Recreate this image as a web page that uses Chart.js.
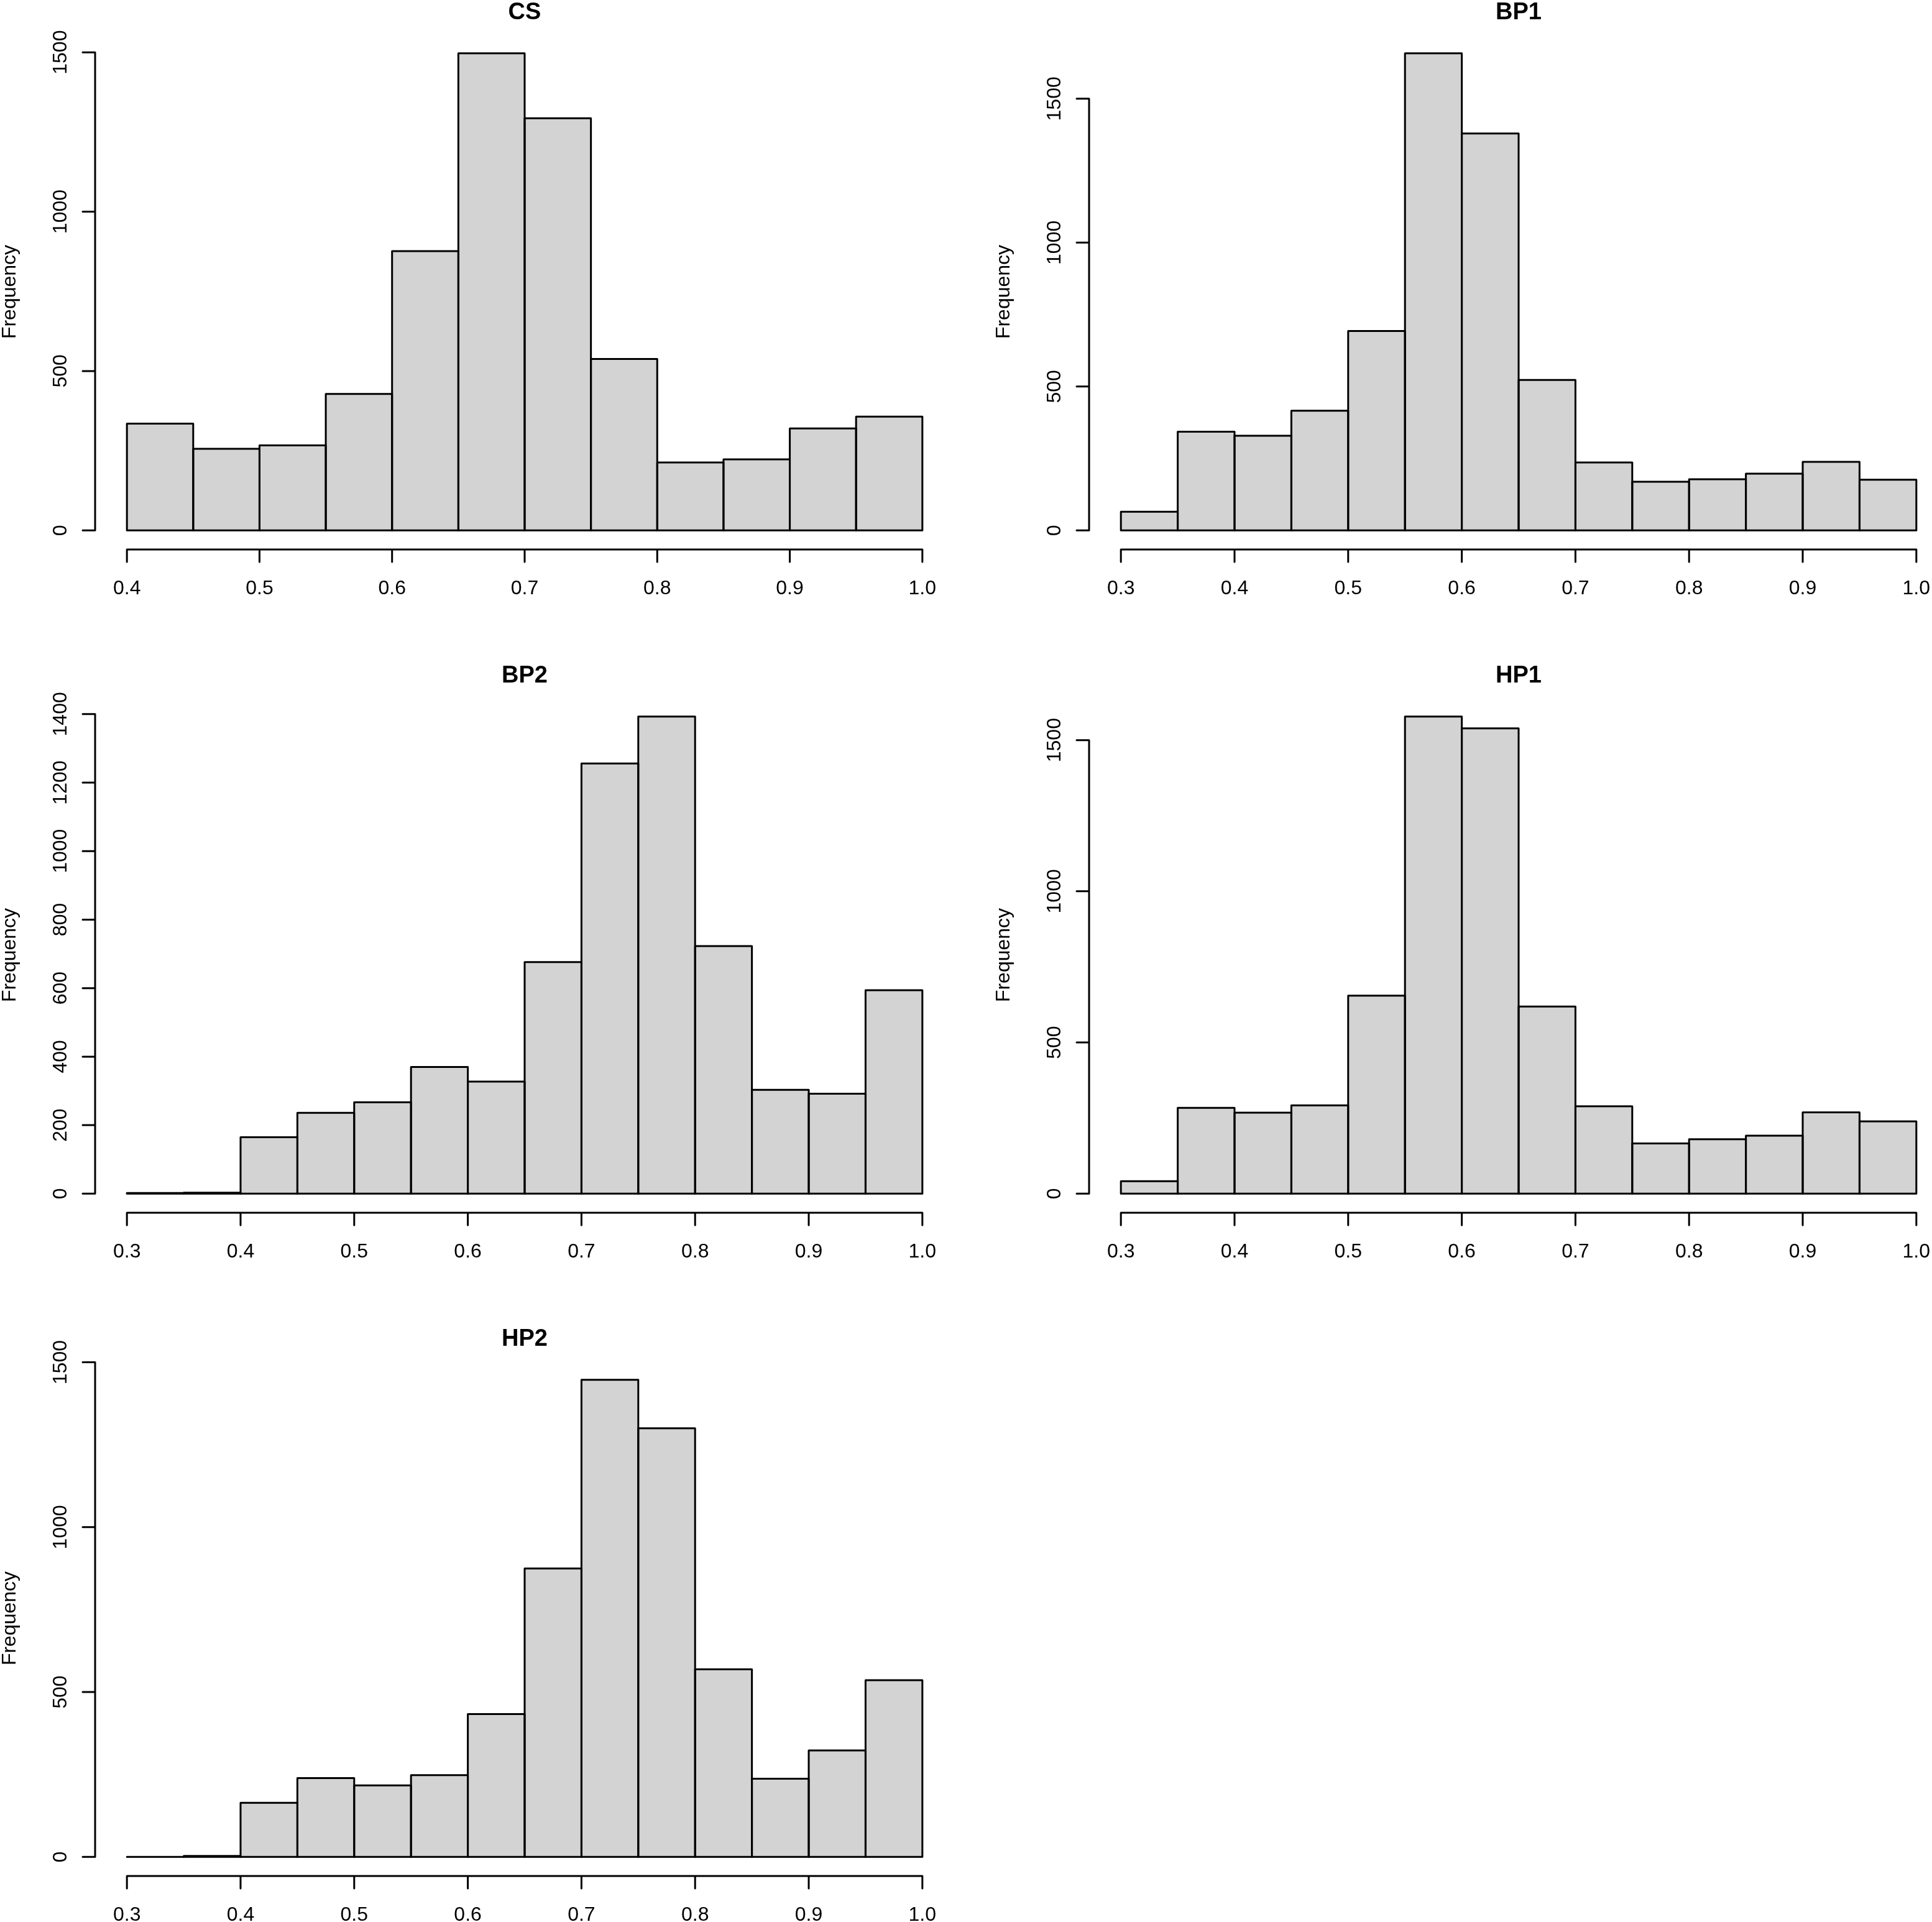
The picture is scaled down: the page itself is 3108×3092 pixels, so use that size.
<!DOCTYPE html>
<html>
<head>
<meta charset="utf-8">
<title>Histograms</title>
<script src="https://cdn.jsdelivr.net/npm/chart.js@4.4.1/dist/chart.umd.min.js"></script>
<style>
  body { margin: 0; background: #ffffff; }
  #figure { position: relative; width: 3108px; height: 3092px; overflow: hidden; background: #ffffff; }
  #figure canvas { position: absolute; }
</style>
</head>
<body>
<div id="figure"></div>
<script>
// Bin starts, every bin is 0.05 wide
const binWidth = 0.05;
const binsFrom40 = [0.40, 0.45, 0.50, 0.55, 0.60, 0.65, 0.70, 0.75, 0.80, 0.85, 0.90, 0.95];
const binsFrom30 = [0.30, 0.35, 0.40, 0.45, 0.50, 0.55, 0.60, 0.65, 0.70, 0.75, 0.80, 0.85, 0.90, 0.95];

// Frequencies
const csCounts  = [335, 256, 267, 428, 876, 1497, 1293, 538, 213, 223, 320, 357];
const bp1Counts = [65, 343, 329, 416, 693, 1658, 1379, 523, 236, 169, 178, 197, 238, 176];
const bp2Counts = [2, 3, 165, 236, 267, 370, 327, 676, 1256, 1393, 723, 303, 292, 594];
const hp1Counts = [41, 284, 268, 292, 655, 1578, 1539, 619, 289, 166, 180, 192, 269, 239];
const hp2Counts = [0, 3, 164, 239, 217, 248, 433, 875, 1447, 1300, 569, 237, 323, 536];

// Tick labels
const xTicksFrom40 = [0.4, 0.5, 0.6, 0.7, 0.8, 0.9, 1.0];
const xTicksFrom30 = [0.3, 0.4, 0.5, 0.6, 0.7, 0.8, 0.9, 1.0];
const yTicksBy500 = [0, 500, 1000, 1500];
const yTicksBy200 = [0, 200, 400, 600, 800, 1000, 1200, 1400];

const panelTitles = ["CS", "BP1", "BP2", "HP1", "HP2"];
const yAxisLabel = "Frequency";

// Panel grid of the figure (3 rows x 2 columns, last cell empty)
const panelWidth = 1554;
const panelHeight = 1067;
const columnStep = 1599;
const fontFamily = "'Liberation Sans', Arial, sans-serif";

/**
 * Draws the R style parts of a histogram: bar outlines, detached axes,
 * rotated y labels, the title and the y axis label.
 */
const rHistAxes = {
    id: "rHistAxes",
    afterDraw(chart, args, opts) {
        const ctx = chart.ctx;
        const area = chart.chartArea;
        const xScale = chart.scales.x;
        const yScale = chart.scales.y;

        ctx.save();
        ctx.strokeStyle = "#000000";
        ctx.fillStyle = "#000000";
        ctx.lineWidth = 3;
        ctx.lineJoin = "round";
        ctx.lineCap = "round";

        // Outline every bar like R's rect(), also the empty bins
        chart.getDatasetMeta(0).data.forEach(function (bar) {
            const p = bar.getProps(["x", "y", "base", "width"], true);
            const left = p.x - p.width / 2;
            const right = p.x + p.width / 2;
            ctx.beginPath();
            ctx.moveTo(left, p.base);
            ctx.lineTo(left, p.y);
            ctx.lineTo(right, p.y);
            ctx.lineTo(right, p.base);
            ctx.closePath();
            ctx.stroke();
        });

        // X axis, from first to last tick, at the bottom of the plot region
        const xFirst = xScale.getPixelForValue(opts.xTicks[0]);
        const xLast = xScale.getPixelForValue(opts.xTicks[opts.xTicks.length - 1]);
        ctx.beginPath();
        ctx.moveTo(xFirst, area.bottom);
        ctx.lineTo(xLast, area.bottom);
        opts.xTicks.forEach(function (v) {
            const px = xScale.getPixelForValue(v);
            ctx.moveTo(px, area.bottom);
            ctx.lineTo(px, area.bottom + 20);
        });
        ctx.stroke();

        ctx.font = "32px " + fontFamily;
        ctx.textAlign = "center";
        ctx.textBaseline = "alphabetic";
        opts.xTicks.forEach(function (v) {
            ctx.fillText(v.toFixed(1), xScale.getPixelForValue(v), area.bottom + 72);
        });

        // Y axis, from 0 to the highest tick, at the left of the plot region
        const yFirst = yScale.getPixelForValue(opts.yTicks[0]);
        const yLast = yScale.getPixelForValue(opts.yTicks[opts.yTicks.length - 1]);
        ctx.beginPath();
        ctx.moveTo(area.left, yFirst);
        ctx.lineTo(area.left, yLast);
        opts.yTicks.forEach(function (v) {
            const py = yScale.getPixelForValue(v);
            ctx.moveTo(area.left, py);
            ctx.lineTo(area.left - 20, py);
        });
        ctx.stroke();

        // Y tick labels run along the axis
        opts.yTicks.forEach(function (v) {
            ctx.save();
            ctx.translate(area.left - 46, yScale.getPixelForValue(v));
            ctx.rotate(-Math.PI / 2);
            ctx.fillText(String(v), 0, 0);
            ctx.restore();
        });

        // Y axis label
        ctx.save();
        ctx.translate(area.left - 128, (area.top + area.bottom) / 2);
        ctx.rotate(-Math.PI / 2);
        ctx.fillText(yAxisLabel, 0, 0);
        ctx.restore();

        // Title
        ctx.font = "bold 38px " + fontFamily;
        ctx.fillText(opts.title, (area.left + area.right) / 2, area.top - 24);

        ctx.restore();
    }
};

/**
 * Creates one histogram panel on its own canvas.
 * @param title The title drawn above the panel.
 * @param bins The start of every bin.
 * @param counts The frequency of every bin.
 * @param xTicks The x axis tick values.
 * @param yTicks The y axis tick values.
 * @param row The row of the figure grid.
 * @param col The column of the figure grid.
 */
function create_histogram(title, bins, counts, xTicks, yTicks, row, col) {
    const canvas = document.createElement("canvas");
    canvas.width = panelWidth;
    canvas.height = panelHeight;
    canvas.style.left = (col * columnStep) + "px";
    canvas.style.top = (row * panelHeight) + "px";
    document.getElementById("figure").appendChild(canvas);

    // R extends each axis range by 4% on both sides
    const xLow = bins[0];
    const xHigh = bins[bins.length - 1] + binWidth;
    const xPad = 0.04 * (xHigh - xLow);
    const yHigh = Math.max.apply(null, counts);
    const yPad = 0.04 * yHigh;

    new Chart(canvas, {
        type: "bar",
        data: {
            datasets: [{
                data: bins.map(function (b, i) {
                    return { x: b + binWidth / 2, y: counts[i] };
                }),
                backgroundColor: "#d3d3d3",
                borderWidth: 0,
                barPercentage: 1,
                categoryPercentage: 1
            }]
        },
        options: {
            responsive: false,
            animation: false,
            devicePixelRatio: 1,
            events: [],
            layout: { padding: { left: 153, right: 19, top: 55, bottom: 183 } },
            plugins: {
                legend: { display: false },
                title: { display: false },
                tooltip: { enabled: false },
                rHistAxes: { title: title, xTicks: xTicks, yTicks: yTicks }
            },
            scales: {
                x: {
                    type: "linear",
                    display: false,
                    offset: false,
                    min: xLow - xPad,
                    max: xHigh + xPad,
                    afterBuildTicks: function (scale) {
                        scale.ticks = xTicks.map(function (v) { return { value: v }; });
                    }
                },
                y: {
                    type: "linear",
                    display: false,
                    min: -yPad,
                    max: yHigh + yPad
                }
            }
        },
        plugins: [rHistAxes]
    });
}

create_histogram(panelTitles[0], binsFrom40, csCounts, xTicksFrom40, yTicksBy500, 0, 0);
create_histogram(panelTitles[1], binsFrom30, bp1Counts, xTicksFrom30, yTicksBy500, 0, 1);
create_histogram(panelTitles[2], binsFrom30, bp2Counts, xTicksFrom30, yTicksBy200, 1, 0);
create_histogram(panelTitles[3], binsFrom30, hp1Counts, xTicksFrom30, yTicksBy500, 1, 1);
create_histogram(panelTitles[4], binsFrom30, hp2Counts, xTicksFrom30, yTicksBy500, 2, 0);
</script>
</body>
</html>
